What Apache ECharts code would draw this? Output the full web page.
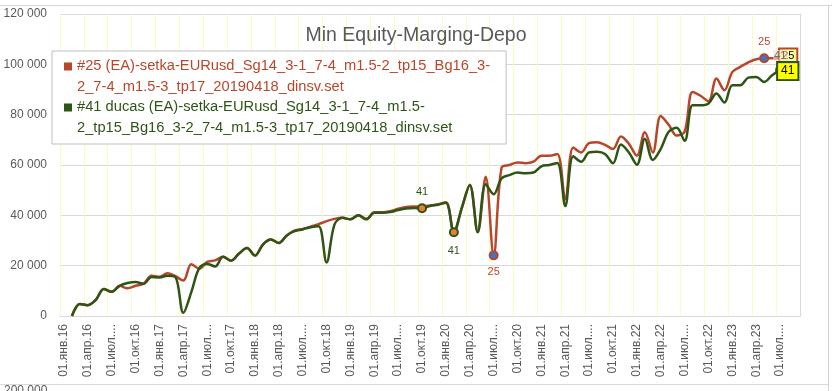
<!DOCTYPE html>
<html>
<head>
<meta charset="utf-8">
<script src="https://cdn.jsdelivr.net/npm/echarts@6/dist/echarts.min.js"></script>
<style>
html, body { margin: 0; padding: 0; background: #fff; }
#chart { width: 832px; height: 391px; }
</style>
</head>
<body>
<div id="chart"></div>
<script>
// month labels, Jan 2016 .. Sep 2023
var monthNames = ['янв', 'фев', 'мар', 'апр', 'май', 'июн', 'июл', 'авг', 'сен', 'окт', 'ноя', 'дек'];
var years = ['16', '17', '18', '19', '20', '21', '22', '23'];
var monthCount = 93;

var name25 = '#25 (EA)-setka-EURusd_Sg14_3-1_7-4_m1.5-2_tp15_Bg16_3-2_7-4_m1.5-3_tp17_20190418_dinsv.set';
var name41 = '#41 ducas (EA)-setka-EURusd_Sg14_3-1_7-4_m1.5-2_tp15_Bg16_3-2_7-4_m1.5-3_tp17_20190418_dinsv.set';
var legendLines25 = ['#25 (EA)-setka-EURusd_Sg14_3-1_7-4_m1.5-2_tp15_Bg16_3-', '2_7-4_m1.5-3_tp17_20190418_dinsv.set'];
var legendLines41 = ['#41 ducas (EA)-setka-EURusd_Sg14_3-1_7-4_m1.5-', '2_tp15_Bg16_3-2_7-4_m1.5-3_tp17_20190418_dinsv.set'];

var values25 = [
    null, 0, 4800, 4300, 6400, 10700, 9600, 12000, 11000, 12000, 12800, 16000,
    15600, 17000, 15800, 14100, 20600, 18800, 21500, 22100, 23500, 22000, 24800, 27000,
    24000, 28400, 30400, 29000, 32000, 34000, 34600, 35500, 36500, 37700, 38600, 39000,
    38400, 40000, 38600, 41200, 41200, 41600, 42600, 43300, 43500, 43600, 43900, 44400,
    45200, 33500, 43000, 52200, 33400, 55300, 24100, 59000, 60000, 61000, 60700, 61300,
    63700, 63700, 64400, 46400, 67000, 65000, 68700, 69000, 68000, 66400, 71300, 68400,
    63700, 73000, 65000, 79500, 76000, 71700, 73200, 89000, 87500, 85300, 94400, 89700,
    97000, 99000, 100800, 102000, 102400, 102400, 102300, null, null
];
var values41 = [
    null, 0, 4800, 4300, 6400, 10700, 9600, 12000, 13100, 13500, 12800, 15500,
    15300, 16000, 15500, 1300, 9500, 19000, 20700, 19700, 23500, 22000, 24800, 27000,
    24000, 28400, 30400, 29000, 32000, 33700, 34400, 35300, 35700, 21300, 36400, 39000,
    38400, 40000, 38400, 41000, 41000, 41300, 42100, 42700, 42900, 42800, 43700, 44200,
    45000, 33300, 43000, 52000, 33300, 52400, 48400, 54700, 56000, 57000, 56700, 57000,
    59500, 60000, 60800, 43700, 63500, 61300, 65000, 65300, 64400, 60700, 68100, 65000,
    60100, 70400, 62000, 66400, 73200, 74800, 69600, 83700, 83700, 84400, 88400, 84800,
    91700, 91700, 94700, 95000, 93000, 95700, 97700, null, null
];

var colorRed = '#B8472A';
var colorGreen = '#2D5516';
var textGrey = '#595959';
var font = 'Liberation Sans';

var categories = [];
for (var i = 0; i < monthCount; i++) {
    categories.push('01.' + monthNames[i % 12] + '.' + years[Math.floor(i / 12)]);
}

// points that carry a marker / label
var marks25 = {
    54: { fill: '#4472C4', label: { show: true, position: 'bottom', distance: 6, formatter: '25', color: colorRed } },
    88: { fill: '#4472C4', label: { show: true, position: 'top', distance: 6, formatter: '25', color: colorRed } },
    90: { size: 0.1, label: { show: true, position: [0, -9], formatter: '25', color: '#000',
          backgroundColor: '#FFFF99', borderColor: colorRed, borderWidth: 2, padding: [1, 2] } }
};
var marks41 = {
    45: { fill: '#ED7D31', label: { show: true, position: 'top', distance: 6, formatter: '41', color: colorGreen } },
    49: { fill: '#ED7D31', label: { show: true, position: 'bottom', distance: 8, formatter: '41', color: colorGreen } },
    89: { size: 0.1, label: { show: true, position: [1, -25], formatter: '41', color: '#66734F',
          backgroundColor: 'rgba(250,215,215,0.6)', padding: [0, 1] } },
    90: { fill: colorGreen, label: { show: true, position: [3, -2], formatter: '41', color: '#000', fontSize: 12,
          backgroundColor: '#FFFF00', borderColor: colorGreen, borderWidth: 2, padding: [2, 3] } }
};

function buildData(values, marks, lineColor) {
    return values.map(function (v, idx) {
        var m = marks[idx];
        if (!m) return v;
        var lbl = m.label;
        lbl.fontFamily = font;
        lbl.fontSize = lbl.fontSize || 11;
        return {
            value: v,
            symbol: 'circle',
            symbolSize: m.size || 8,
            itemStyle: { color: m.fill || lineColor, borderColor: lineColor, borderWidth: m.size ? 0 : 2 },
            label: lbl
        };
    });
}

var myChart = echarts.init(document.getElementById('chart'));

var option = {
    backgroundColor: '#fff',
    animation: false,
    title: {
        text: 'Min Equity-Marging-Depo',
        left: 'center',
        top: 21,
        textStyle: { color: textGrey, fontSize: 19.5, fontWeight: 'normal', fontFamily: font }
    },
    legend: {
        orient: 'vertical',
        left: 52,
        top: 51,
        padding: [5, 16, 6, 12],
        itemGap: 0,
        itemWidth: 8,
        itemHeight: 28,
        backgroundColor: '#fff',
        borderColor: '#BFBFBF',
        borderWidth: 1,
        itemStyle: { borderWidth: 0 },
        icon: 'path://M0,0H8V8H0Z M0,28H0.01',
        textStyle: { fontFamily: font, fontSize: 14.7, lineHeight: 20.5 },
        data: [
            { name: name25, textStyle: { color: colorRed } },
            { name: name41, textStyle: { color: colorGreen } }
        ],
        formatter: function (name) {
            return (name === name25 ? legendLines25 : legendLines41).join('\n');
        }
    },
    grid: { left: 60, right: 32, top: 14, bottom: 75 },
    xAxis: {
        type: 'category',
        data: categories,
        boundaryGap: true,
        axisLine: { lineStyle: { color: '#D9D9D9' } },
        axisTick: { show: false },
        axisLabel: {
            interval: 2,
            rotate: 90,
            margin: 8,
            color: textGrey,
            fontFamily: font,
            fontSize: 12,
            formatter: function (v) {
                return v.indexOf('июл') >= 0 ? '01.июл....' : v;
            }
        },
        splitLine: { show: true, interval: 2, lineStyle: { color: '#FCFAC2', width: 1 } }
    },
    yAxis: [{
        type: 'value',
        min: 0,
        max: 120000,
        interval: 20000,
        axisLine: { show: false },
        axisTick: { show: false },
        axisLabel: {
            margin: 13,
            color: textGrey,
            fontFamily: font,
            fontSize: 12,
            formatter: function (v) {
                return v === 0 ? '0' : (v / 1000) + ' 000';
            }
        },
        splitLine: { lineStyle: { color: '#D9D9D9' } }
    }, {
        type: 'value',
        position: 'right',
        min: 0,
        max: 120000,
        axisLine: { show: true, lineStyle: { color: '#D9D9D9' } },
        axisTick: { show: false },
        axisLabel: { show: false },
        splitLine: { show: false }
    }],
    series: [
        {
            name: name25,
            type: 'line',
            smooth: 0.35,
            symbol: 'none',
            showAllSymbol: true,
            color: colorRed,
            lineStyle: { width: 2.5, color: colorRed },
            labelLayout: { hideOverlap: false },
            data: buildData(values25, marks25, colorRed)
        },
        {
            name: name41,
            type: 'line',
            smooth: 0.35,
            symbol: 'none',
            showAllSymbol: true,
            color: colorGreen,
            lineStyle: { width: 2.5, color: colorGreen },
            labelLayout: { hideOverlap: false },
            data: buildData(values41, marks41, colorGreen)
        }
    ],
    // sheet cell borders around the chart object
    graphic: [
        { type: 'line', shape: { x1: 0, y1: 5.5, x2: 832, y2: 5.5 }, style: { stroke: '#D4D4D4', lineWidth: 1 } },
        { type: 'line', shape: { x1: 828.5, y1: 5.5, x2: 828.5, y2: 391 }, style: { stroke: '#D4D4D4', lineWidth: 1 } },
        { type: 'line', shape: { x1: 0, y1: 384.5, x2: 828, y2: 384.5 }, style: { stroke: '#D9D9D9', lineWidth: 1 } },
        { type: 'text', left: 4, top: 385, style: { text: '200 000', fill: textGrey, font: '12px Liberation Sans' } }
    ]
};
myChart.setOption(option);
</script>
</body>
</html>
